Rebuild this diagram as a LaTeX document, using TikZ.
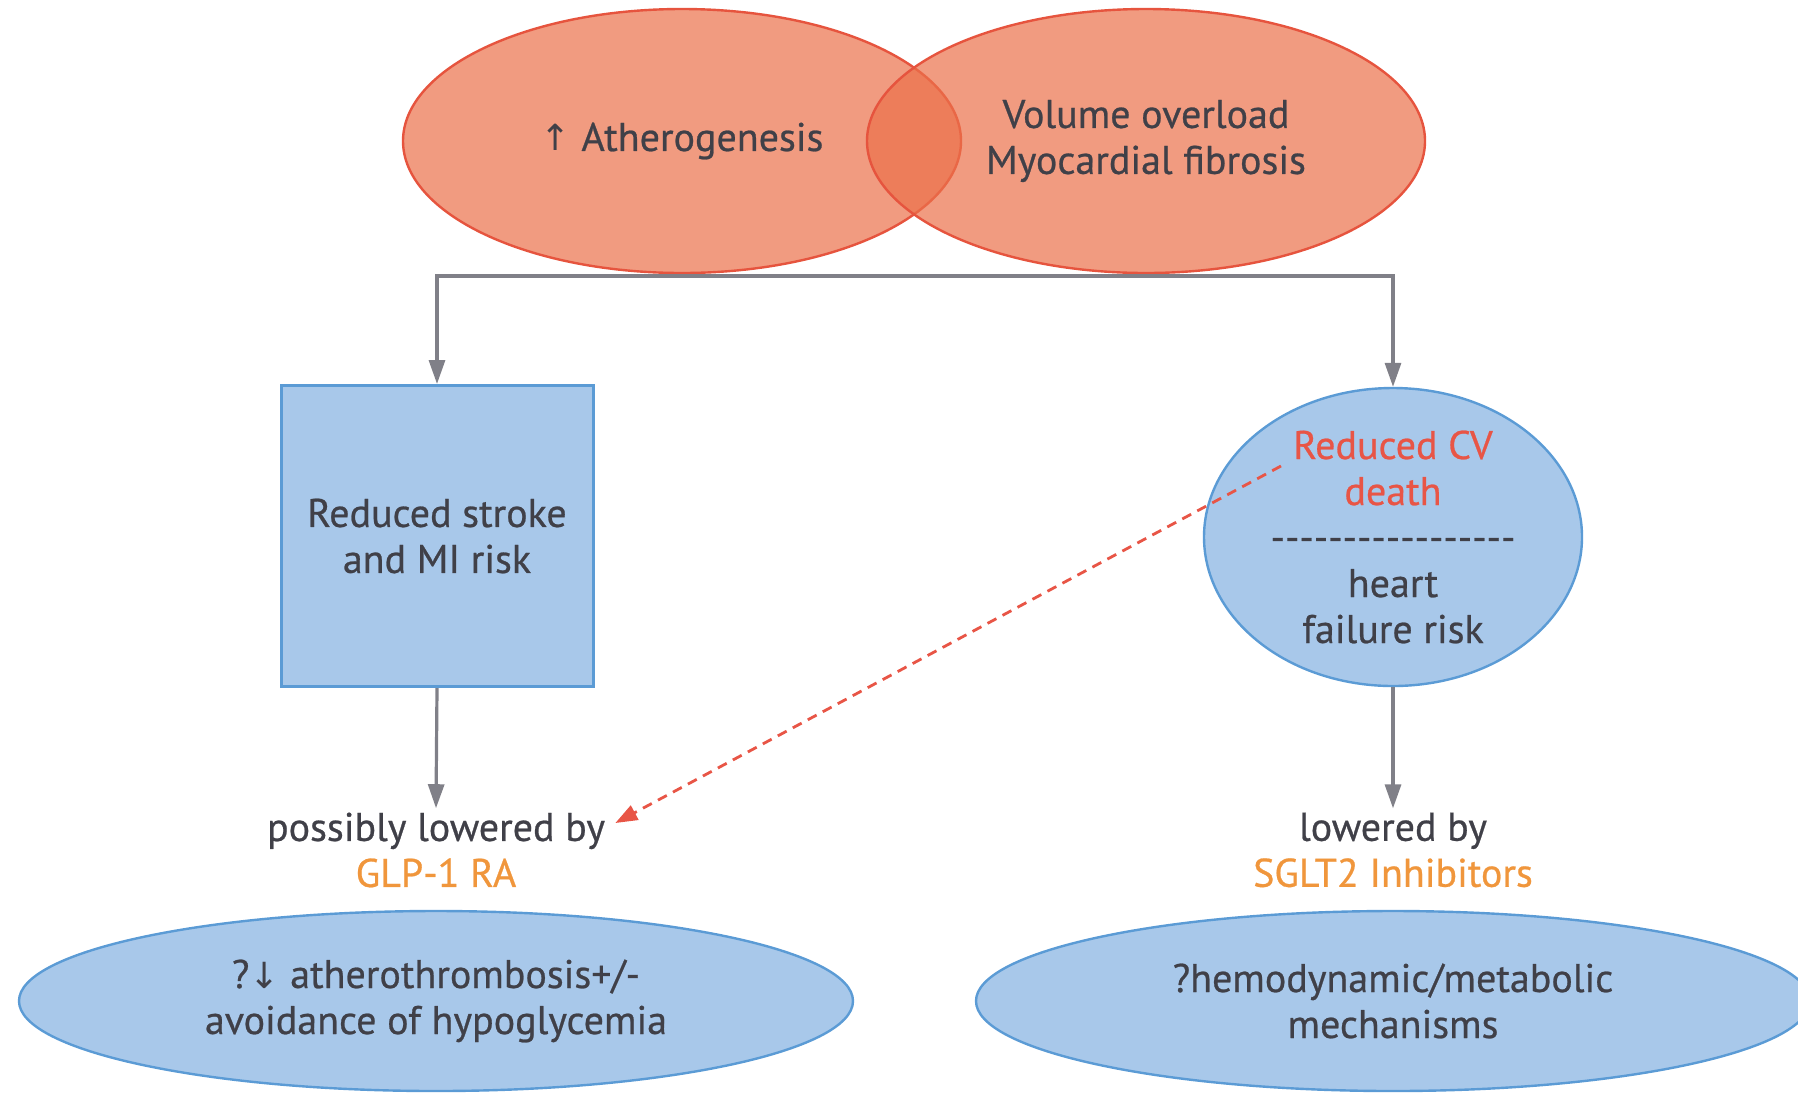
\documentclass[tikz,border=0pt]{standalone}
\usepackage{fontspec}
\setmainfont{PT Sans}[FakeBold=0.6]
\newfontfamily\symfont{DejaVu Sans}
\newfontfamily\plainfont{PT Sans}[FakeBold=0.6]
\usetikzlibrary{shapes.geometric,arrows.meta}
\definecolor{salmonfill}{RGB}{235,112,74}
\definecolor{salmonline}{RGB}{230,84,62}
\definecolor{bluefill}{RGB}{168,200,234}
\definecolor{blueline}{RGB}{91,155,213}
\definecolor{txt}{RGB}{64,64,72}
\definecolor{connc}{RGB}{128,128,136}
\definecolor{cvred}{RGB}{232,85,70}
\definecolor{drug}{RGB}{240,150,60}
\begin{document}
\begin{tikzpicture}[x=0.5pt,y=-0.5pt,
  font=\fontsize{20}{23}\selectfont, text=txt,
  venn/.style={ellipse, draw=salmonline, line width=1.2pt, fill=salmonfill,
    fill opacity=0.7, draw opacity=1, text opacity=1,
    minimum width=279pt, minimum height=132pt, inner sep=0pt, align=center},
  bluebox/.style={rectangle, draw=blueline, fill=bluefill, line width=1.5pt, align=center},
  blueell/.style={ellipse, draw=blueline, fill=bluefill, line width=1.2pt, inner sep=0pt, align=center},
  lbl/.style={align=center, inner sep=2pt},
  grayarrow/.style={draw=connc, line width=1.6pt, -{Triangle[length=12pt,width=8pt]}},
  cvarrow/.style={draw=cvred, line width=1.4pt, dash pattern=on 5pt off 3.5pt,
    -{Triangle[length=11pt,width=8pt]}}
]
\useasboundingbox (0,0) rectangle (1798,1094);
\clip (0,0) rectangle (1798,1094);

% top Venn
\node[venn] (athero) at (682,141) {{\symfont\fontsize{18}{23}\selectfont ↑} Atherogenesis};
\node[venn] (volume) at (1146,141) {Volume overload\\Myocardial fibrosis};
\coordinate (split) at (914,276);

% middle
\node[bluebox, minimum width=156pt, minimum height=150.5pt] (stroke) at (437,536) {Reduced stroke\\and MI risk};
\node[blueell, minimum width=189pt, minimum height=149pt] (cv) at (1393,537) {};
\node[lbl] (cvtext) at (1393,537) {\textcolor{cvred}{Reduced CV}\\\textcolor{cvred}{death}\\{\plainfont -----------------}\\heart\\failure risk};
\coordinate (cvstart) at (1281,466);

% labels
\node[lbl] (possibly) at (436,850) {possibly lowered by\\\textcolor{drug}{GLP-1 RA}};
\node[lbl] (lowered) at (1393,850) {lowered by\\\textcolor{drug}{SGLT2 Inhibitors}};

% bottom ellipses
\node[blueell, minimum width=417pt, minimum height=90pt] (glp) at (436,1001) {?{\symfont\fontsize{18}{23}\selectfont ↓} atherothrombosis+/-\\avoidance of hypoglycemia};
\node[blueell, minimum width=417pt, minimum height=90pt] (sgl) at (1393,1001) {?hemodynamic/metabolic\\mechanisms};

% connectors
\draw[grayarrow] (split) -| (stroke.north);
\draw[grayarrow] (split) -| (cv.north);
\draw[grayarrow] (stroke.south) -- (possibly.north);
\draw[grayarrow] (cv.south) -- (lowered.north);
\draw[cvarrow] (cvstart) -- ([shift={(6,-27)}]possibly.east);
\end{tikzpicture}
\end{document}
